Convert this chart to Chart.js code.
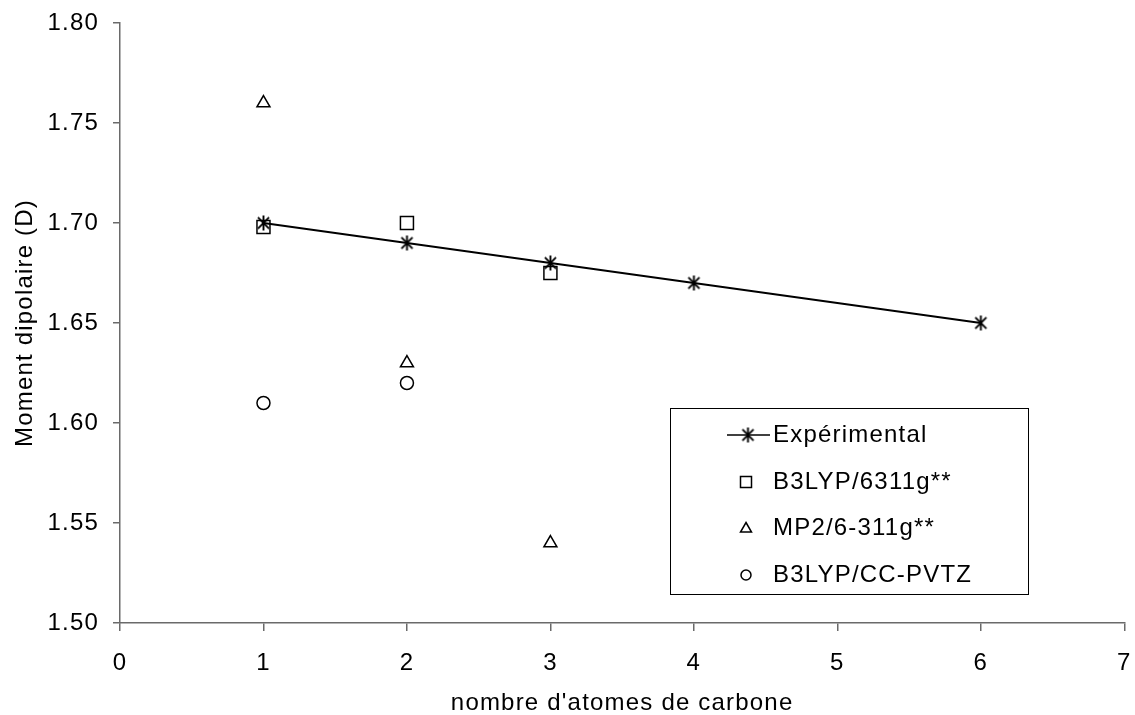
<!DOCTYPE html>
<html>
<head>
<meta charset="utf-8">
<script src="https://cdn.jsdelivr.net/npm/chart.js@4.4.1/dist/chart.umd.min.js"></script>
<style>
html,body{margin:0;padding:0;background:#fff;}
#wrap{width:1135px;height:715px;}
</style>
</head>
<body>
<div id="wrap"><canvas id="c" width="1135" height="715"></canvas></div>
<script>
// ---- data ----
const expX = [1, 2, 3, 4, 6];
const expY = [1.70, 1.69, 1.68, 1.67, 1.65];
const b3lypX = [1, 2, 3];
const b3lypY = [1.698, 1.70, 1.675];
const mp2X = [1, 2, 3];
const mp2Y = [1.76, 1.63, 1.54];
const ccX = [1, 2];
const ccY = [1.61, 1.62];
const seriesNames = ['Expérimental', 'B3LYP/6311g**', 'MP2/6-311g**', 'B3LYP/CC-PVTZ'];
const xTitle = "nombre d'atomes de carbone";
const yTitle = 'Moment dipolaire (D)';

const FONT = "'Liberation Sans', Arial, sans-serif";
const FS = 24;
const LS = '1.2px';

function pts(xs, ys){ return xs.map((x,i)=>({x:x, y:ys[i]})); }

function makeAsterisk(size, lw){
  const c = document.createElement('canvas');
  c.width = size; c.height = size;
  const g = c.getContext('2d');
  g.strokeStyle = '#000'; g.lineWidth = lw;
  const m = size/2, r = size/2 - 1;
  g.beginPath();
  g.moveTo(m, m - r); g.lineTo(m, m + r);
  const d = r * 0.74;
  g.moveTo(m - d, m - d); g.lineTo(m + d, m + d);
  g.moveTo(m + d, m - d); g.lineTo(m - d, m + d);
  g.stroke();
  return c;
}
const asterisk = makeAsterisk(17, 1.9);

const spacingPlugin = {
  id: 'spacing',
  beforeLayout(chart){ chart.ctx.letterSpacing = LS; },
  beforeDraw(chart){ chart.ctx.letterSpacing = LS; }
};

const legendPlugin = {
  id: 'boxLegend',
  afterDraw(chart){
    const ctx = chart.ctx;
    const ca = chart.chartArea;
    const bx = ca.left + 550, by = ca.top + 385, bw = 358, bh = 186;
    ctx.save();
    ctx.letterSpacing = LS;
    ctx.fillStyle = '#fff';
    ctx.fillRect(bx, by, bw, bh);
    ctx.strokeStyle = '#000'; ctx.lineWidth = 1;
    ctx.strokeRect(bx + 0.5, by + 0.5, bw, bh);
    const rows = [by + 27, by + 74, by + 120, by + 167];
    const mx = bx + 76, tx = bx + 103;
    ctx.font = FS + 'px ' + FONT;
    ctx.fillStyle = '#000';
    ctx.textBaseline = 'middle';
    ctx.textAlign = 'left';
    seriesNames.forEach((n, i) => ctx.fillText(n, tx, rows[i]));
    ctx.lineWidth = 1.5; ctx.strokeStyle = '#000';
    ctx.beginPath(); ctx.moveTo(bx + 57, rows[0]); ctx.lineTo(bx + 100, rows[0]); ctx.stroke();
    ctx.drawImage(asterisk, bx + 78 - 8.5, rows[0] - 8.5);
    ctx.strokeRect(mx - 5.5, rows[1] - 5.5, 11, 11);
    ctx.beginPath();
    ctx.moveTo(mx, rows[2] - 5.5); ctx.lineTo(mx + 5.5, rows[2] + 4); ctx.lineTo(mx - 5.5, rows[2] + 4); ctx.closePath(); ctx.stroke();
    ctx.beginPath(); ctx.arc(mx, rows[3], 5, 0, Math.PI*2); ctx.stroke();
    ctx.restore();
  }
};

const axisColor = '#6a6a6a';
const PLOT_LEFT = 120, PLOT_RIGHT_GAP = 7;

new Chart(document.getElementById('c'), {
  type: 'scatter',
  data: {
    datasets: [
      { label: seriesNames[0], data: pts(expX, expY), showLine: true, borderColor: '#000', borderWidth: 2,
        pointStyle: asterisk, pointRadius: 8, pointHoverRadius: 8, backgroundColor: '#000', order: 1 },
      { label: seriesNames[1], data: pts(b3lypX, b3lypY), pointStyle: 'rect', pointRadius: 9.2, pointHoverRadius: 9.2,
        borderColor: '#000', backgroundColor: 'rgba(0,0,0,0)', borderWidth: 1.5, order: 2 },
      { label: seriesNames[2], data: pts(mp2X, mp2Y), pointStyle: 'triangle', pointRadius: 7.5, pointHoverRadius: 7.5,
        borderColor: '#000', backgroundColor: 'rgba(0,0,0,0)', borderWidth: 1.5, order: 3 },
      { label: seriesNames[3], data: pts(ccX, ccY), pointStyle: 'circle', pointRadius: 6.5, pointHoverRadius: 6.5,
        borderColor: '#000', backgroundColor: 'rgba(0,0,0,0)', borderWidth: 1.5, order: 4 }
    ]
  },
  options: {
    responsive: false,
    animation: false,
    events: [],
    layout: { padding: { top: 23, right: PLOT_RIGHT_GAP, left: 0, bottom: 0 } },
    plugins: { legend: { display: false }, tooltip: { enabled: false } },
    scales: {
      x: {
        type: 'linear', min: 0, max: 7,
        afterFit(s){
          s.height = 92; s.paddingLeft = 0; s.paddingRight = 0;
          if (s._margins) { s._margins.left = 0; s._margins.right = 0; }
          s.width = s.chart.width - PLOT_LEFT - PLOT_RIGHT_GAP;
        },
        ticks: { stepSize: 1, color: '#000', font: { family: FONT, size: FS }, padding: 18, maxRotation: 0,
                 callback: v => String(v) },
        grid: { drawOnChartArea: false, drawTicks: true, tickLength: 8, tickColor: axisColor, lineWidth: 1.5 },
        border: { display: true, color: axisColor, width: 1.5 },
        title: { display: true, text: xTitle, color: '#000', font: { family: FONT, size: FS, lineHeight: 1 }, padding: { top: 0, bottom: 0 } }
      },
      y: {
        type: 'linear', min: 1.5, max: 1.8,
        afterFit(s){ s.width = PLOT_LEFT; s.paddingTop = 0; s.paddingBottom = 0; },
        ticks: { stepSize: 0.05, color: '#000', font: { family: FONT, size: FS }, padding: 14,
                 callback: v => Number(v).toFixed(2) },
        grid: { drawOnChartArea: false, drawTicks: true, tickLength: 7, tickColor: axisColor, lineWidth: 1.5 },
        border: { display: true, color: axisColor, width: 1.5 },
        title: { display: true, text: yTitle, color: '#000', font: { family: FONT, size: FS, lineHeight: 1 }, padding: { top: 13, bottom: 0 } }
      }
    }
  },
  plugins: [spacingPlugin, legendPlugin]
});
</script>
</body>
</html>
